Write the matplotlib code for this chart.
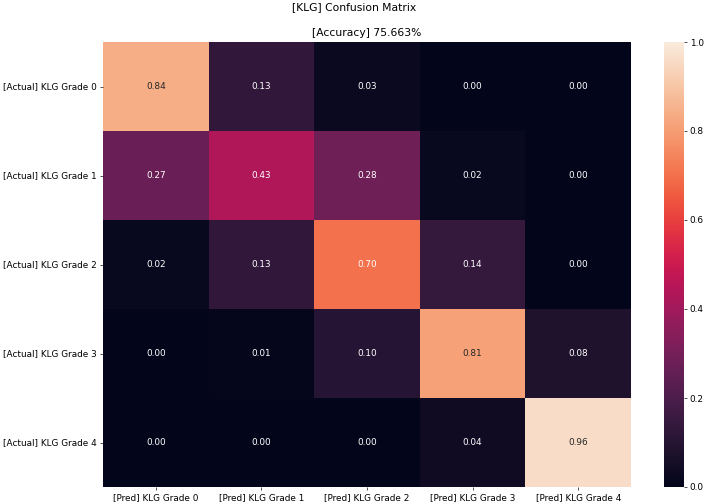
import numpy as np
import matplotlib
matplotlib.use("Agg")
import matplotlib.pyplot as plt
import seaborn as sns

row_labels = ["[Actual] KLG Grade 0", "[Actual] KLG Grade 1", "[Actual] KLG Grade 2",
              "[Actual] KLG Grade 3", "[Actual] KLG Grade 4"]
col_labels = ["[Pred] KLG Grade 0", "[Pred] KLG Grade 1", "[Pred] KLG Grade 2",
              "[Pred] KLG Grade 3", "[Pred] KLG Grade 4"]
grade0 = [0.84, 0.13, 0.03, 0.00, 0.00]
grade1 = [0.27, 0.43, 0.28, 0.02, 0.00]
grade2 = [0.02, 0.13, 0.70, 0.14, 0.00]
grade3 = [0.00, 0.01, 0.10, 0.81, 0.08]
grade4 = [0.00, 0.00, 0.00, 0.04, 0.96]
accuracy = 75.663

cm = np.array([grade0, grade1, grade2, grade3, grade4])

plt.rcParams["font.size"] = 10.7

fig = plt.figure(figsize=(11.8, 8.4), dpi=60)
# pixel layout of the heatmap and colorbar
ax = fig.add_axes([103 / 708, 17 / 504, 528 / 708, 445 / 504])
cax = fig.add_axes([664 / 708, 17 / 504, 20 / 708, 445 / 504])

sns.heatmap(cm, annot=True, fmt=".2f", vmin=0, vmax=1, ax=ax, cbar_ax=cax,
            xticklabels=col_labels, yticklabels=row_labels,
            annot_kws={"size": 10.7})
ax.set_yticklabels(row_labels, rotation=0)
ax.set_title(f"[Accuracy] {accuracy:.3f}%", pad=7)
fig.suptitle("[KLG] Confusion Matrix", y=0.995)

plt.savefig("out.png", dpi=60)
